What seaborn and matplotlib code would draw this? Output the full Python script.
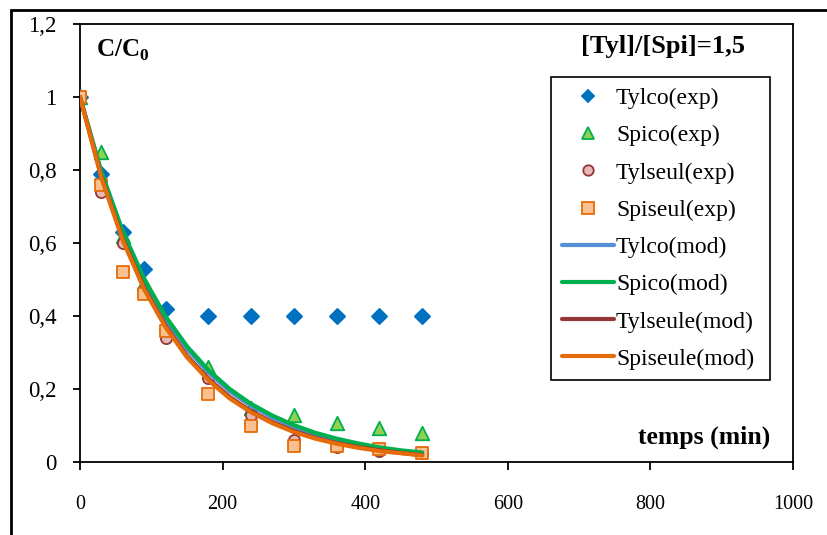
import numpy as np
import pandas as pd
import seaborn as sns
import matplotlib
matplotlib.use("Agg")
import matplotlib.pyplot as plt
from matplotlib.lines import Line2D
from matplotlib.patches import Rectangle
from matplotlib.ticker import FuncFormatter

# Sampling times (min) of the experimental points
t_exp = [0, 30, 60, 90, 120, 180, 240, 300, 360, 420, 480]

# Experimental relative concentrations C/C0
tylco_exp = [1.00, 0.79, 0.63, 0.53, 0.42, 0.40, 0.40, 0.40, 0.40, 0.40, 0.40]
spico_exp = [1.00, 0.85, 0.62, 0.49, 0.38, 0.26, 0.148, 0.13, 0.107, 0.093, 0.08]
tylseul_exp = [1.00, 0.74, 0.60, 0.47, 0.34, 0.23, 0.13, 0.06, 0.04, 0.03, 0.025]
spiseul_exp = [1.00, 0.76, 0.52, 0.46, 0.36, 0.186, 0.10, 0.045, 0.045, 0.035, 0.025]

# Model curves
t_mod = [0, 30, 60, 90, 120, 150, 180, 210, 240, 270, 300, 330, 360, 390, 420, 450, 480]
tylco_mod = [1.0, 0.791, 0.626, 0.495, 0.392, 0.310, 0.246, 0.194, 0.154, 0.122,
             0.096, 0.076, 0.060, 0.048, 0.038, 0.030, 0.024]
spico_mod = [1.0, 0.795, 0.632, 0.502, 0.399, 0.317, 0.252, 0.200, 0.159, 0.127,
             0.101, 0.080, 0.064, 0.051, 0.040, 0.032, 0.026]
tylseule_mod = [1.0, 0.781, 0.611, 0.477, 0.373, 0.291, 0.228, 0.178, 0.139, 0.109,
                0.085, 0.066, 0.052, 0.041, 0.032, 0.025, 0.019]
spiseule_mod = [1.0, 0.779, 0.607, 0.473, 0.369, 0.287, 0.224, 0.174, 0.136, 0.106,
                0.082, 0.064, 0.050, 0.039, 0.030, 0.024, 0.018]

x_ticks = [0, 200, 400, 600, 800, 1000]
y_ticks = [0, 0.2, 0.4, 0.6, 0.8, 1.0, 1.2]

sns.set_theme(style="white")
plt.rcParams["font.family"] = ["Liberation Serif", "DejaVu Serif"]
plt.rcParams["text.color"] = "black"
plt.rcParams["mathtext.fontset"] = "custom"
plt.rcParams["mathtext.rm"] = "Liberation Serif"
plt.rcParams["mathtext.bf"] = "Liberation Serif:bold"

fig = plt.figure(figsize=(8.27, 5.35), dpi=100)
ax = fig.add_axes([80 / 827, 73 / 535, 713 / 827, 438 / 535])

# Outer chart frame
fig.patches.append(Rectangle((11 / 827, -0.1), 1.2, 0.1 + 525 / 535,
                             transform=fig.transFigure, fill=False,
                             edgecolor="black", linewidth=2.0, zorder=0))

exp_df = pd.DataFrame({
    "t": t_exp * 4,
    "c": tylco_exp + spico_exp + tylseul_exp + spiseul_exp,
    "serie": (["Tylco(exp)"] * len(t_exp) + ["Spico(exp)"] * len(t_exp)
              + ["Tylseul(exp)"] * len(t_exp) + ["Spiseul(exp)"] * len(t_exp)),
})
mod_df = pd.DataFrame({
    "t": t_mod * 4,
    "c": tylco_mod + spico_mod + tylseule_mod + spiseule_mod,
    "serie": (["Tylco(mod)"] * len(t_mod) + ["Spico(mod)"] * len(t_mod)
              + ["Tylseule(mod)"] * len(t_mod) + ["Spiseule(mod)"] * len(t_mod)),
})

exp_style = {
    "Tylco(exp)": dict(marker="D", s=60, color="#0070C0", edgecolor="#0070C0"),
    "Spico(exp)": dict(marker="^", s=95, color="#92D050", edgecolor="#00B050"),
    "Tylseul(exp)": dict(marker="o", s=65, color="#E6B9B8", edgecolor="#953735"),
    "Spiseul(exp)": dict(marker="s", s=80, color="#FAC090", edgecolor="#E46C0A"),
}
mod_color = {
    "Tylco(mod)": "#558ED5",
    "Spico(mod)": "#00B050",
    "Tylseule(mod)": "#953735",
    "Spiseule(mod)": "#E46C0A",
}

for name, st in exp_style.items():
    sub = exp_df[exp_df["serie"] == name]
    sns.scatterplot(data=sub, x="t", y="c", ax=ax, marker=st["marker"], s=st["s"],
                    color=st["color"], edgecolor=st["edgecolor"], linewidth=1.3,
                    zorder=3, legend=False)

for name, col in mod_color.items():
    sub = mod_df[mod_df["serie"] == name]
    sns.lineplot(data=sub, x="t", y="c", ax=ax, color=col, linewidth=3.0,
                 zorder=4, legend=False)

ax.set_xlim(0, 1000)
ax.set_ylim(0, 1.2)
ax.set_xticks(x_ticks)
ax.set_yticks(y_ticks)
fmt = FuncFormatter(lambda v, p: f"{v:g}".replace(".", ","))
ax.xaxis.set_major_formatter(fmt)
ax.yaxis.set_major_formatter(fmt)
ax.set_xlabel("")
ax.set_ylabel("")
ax.tick_params(axis="x", direction="out", length=6, width=1.3, pad=18,
               labelsize=14.5, colors="black", bottom=True)
ax.tick_params(axis="y", direction="out", length=5, width=1.3, pad=12,
               labelsize=16.5, colors="black", left=True)
for sp in ax.spines.values():
    sp.set_color("black")
    sp.set_linewidth(1.3)
    sp.set_visible(True)

ax.text(96 / 827, 1 - 50 / 535, "C/C$_\\mathbf{0}$", transform=fig.transFigure,
        fontsize=18, fontweight="bold", va="center", ha="left", color="black")
ax.text(745 / 827, 1 - 46 / 535, "[Tyl]/[Spi]=1,5", transform=fig.transFigure,
        fontsize=19, fontweight="bold", va="center", ha="right", color="black")
ax.text(770 / 827, 1 - 437 / 535, "temps (min)", transform=fig.transFigure,
        fontsize=18.5, fontweight="bold", va="center", ha="right", color="black")

handles = []
labels = []
for name, st in exp_style.items():
    msize = {"D": 6.5, "^": 9, "o": 7.5, "s": 8}[st["marker"]]
    handles.append(Line2D([], [], linestyle="none", marker=st["marker"], markersize=msize,
                          markerfacecolor=st["color"], markeredgecolor=st["edgecolor"],
                          markeredgewidth=1.3))
    labels.append(name)
for name, col in mod_color.items():
    handles.append(Line2D([], [], color=col, linewidth=3.0))
    labels.append(name)

leg = ax.legend(handles, labels, loc="upper left",
                bbox_to_anchor=(551 / 827, 1 - 379 / 535, 219 / 827, 302 / 535),
                bbox_transform=fig.transFigure, mode="expand",
                fontsize=17, frameon=True, fancybox=False, framealpha=1,
                edgecolor="black", handlelength=2.2, handletextpad=0.1,
                labelspacing=0.665, borderpad=0.45, borderaxespad=0)
leg.get_frame().set_linewidth(1.2)
leg.set_zorder(5)
for txt in leg.get_texts():
    txt.set_color("black")

fig.savefig("out.png", dpi=100)
